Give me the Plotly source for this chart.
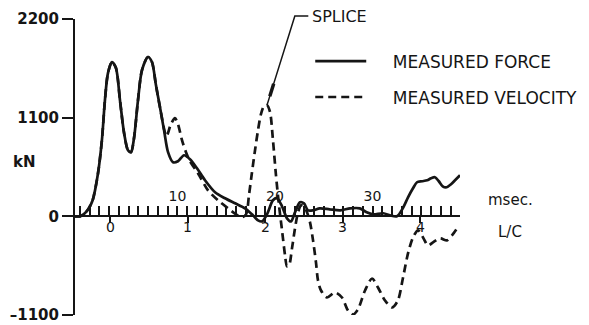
import plotly.graph_objects as go

# ---- data ----
force_t_ms = [-0.5, 0.0, 0.5, 0.9, 1.3, 1.85, 2.25, 2.56, 2.87, 3.28, 3.69, 4.1, 4.51, 4.92, 5.23,
              5.54, 5.95, 6.36, 6.97, 7.38, 7.79, 8.2, 8.62, 9.03, 9.54, 10.05, 10.67, 11.28, 12.0,
              12.82, 13.85, 14.87, 15.9, 16.92, 17.64, 18.26, 18.67, 19.18, 19.79, 20.2, 20.72,
              21.23, 21.64, 22.05, 22.56, 22.97, 23.38, 23.9, 24.6, 25.6, 26.7, 27.7, 28.7, 29.4,
              30.05, 31.1, 31.8, 32.5, 33.1, 33.64, 34.15, 34.56, 35.08, 35.6, 36.0, 36.4, 36.8,
              37.2, 37.6, 38.05, 38.46, 38.97]
force_kN = [0, 0, 34, 89, 179, 480, 849, 1296, 1597, 1720, 1653, 1296, 938, 737, 715,
            871, 1296, 1631, 1776, 1720, 1463, 1218, 961, 715, 603, 614, 681, 637, 536,
            402, 268, 201, 145, 89, 22, -45, -56, 22, 179, 201, 112,
            -22, -56, 45, 156, 145, 67, 67, 89, 78, 67, 89, 89, 45,
            22, 34, 11, 0, 89, 212, 313, 380, 391, 402, 424, 436, 391,
            335, 324, 357, 402, 458]

vel_t_ms = [-0.5, 0.0, 0.5, 0.9, 1.3, 1.85, 2.25, 2.56, 2.87, 3.28, 3.69, 4.1, 4.51, 4.92, 5.23,
            5.54, 5.95, 6.36, 6.97, 7.38, 7.79, 8.2, 8.87, 9.3, 9.74, 10.05, 10.46, 10.87, 11.28,
            12.1, 13.13, 14.15, 15.18, 16.0, 16.6, 17.03, 17.33, 17.64, 17.95, 18.26, 18.56,
            18.87, 19.18, 19.49, 19.79, 20.1, 20.41, 20.72, 21.03, 21.23, 21.44, 21.74, 22.05,
            22.36, 22.67, 22.97, 23.28, 23.59, 23.9, 24.2, 24.41, 24.72, 25.33, 26.15, 26.87,
            27.49, 28.0, 28.5, 29.23, 29.95, 30.56, 31.28, 32.0, 32.6, 33.13, 33.64, 34.15,
            34.67, 35.18, 35.69, 36.2, 36.92, 37.64, 38.15, 38.67]
velocity_kN = [0, 0, 34, 89, 179, 480, 849, 1296, 1597, 1720, 1653, 1296, 938, 737, 715,
               871, 1296, 1631, 1776, 1720, 1463, 1218, 894, 1020, 1095, 1028, 849, 715, 614,
               480, 290, 179, 89, 22, -11, 22, 235, 491, 737, 961, 1139,
               1229, 1240, 1162, 849, 458, 123, -156, -436, -558, -547, -357, -134,
               45, 123, 112, 45, -67, -268, -514, -715, -827, -905, -849, -905,
               -1050, -1095, -1039, -827, -693, -793, -938, -1016, -938, -681, -413, -235,
               -156, -235, -324, -290, -246, -268, -212, -134]

y_ticks = [-1100, 0, 1100, 2200]
msec_ticks = [10, 20, 30]
lc_ticks = [0, 1, 2, 3, 4]

# axis calibration
X_RANGE = [-0.51, 38.97]          # msec
Y_RANGE = [-1100, 2200]           # kN
LC0_MS = 3.08                     # msec at L/C = 0
MS_PER_LC = 7.95
LC_RANGE = [(v - LC0_MS) / MS_PER_LC for v in X_RANGE]

INK = "#151515"
FONT = "DejaVu Sans"
NB = "\u00a0"

fig = go.Figure()
fig.add_trace(go.Scatter(x=force_t_ms, y=force_kN, mode="lines", name=NB * 4 + "MEASURED FORCE",
                         line=dict(color=INK, width=2.7, shape="spline", smoothing=0.8),
                         legend="legend"))
fig.add_trace(go.Scatter(x=vel_t_ms, y=velocity_kN, mode="lines", name=NB * 4 + "MEASURED VELOCITY",
                         line=dict(color=INK, width=2.7, dash="8px,5px", shape="spline", smoothing=0.8),
                         legend="legend2"))
# L/C axis carrier (invisible)
fig.add_trace(go.Scatter(x=LC_RANGE, y=[0, 0], xaxis="x2", mode="lines",
                         line=dict(width=0), hoverinfo="skip", showlegend=False))

zero_pos = (0 - Y_RANGE[0]) / (Y_RANGE[1] - Y_RANGE[0])

# the page body adds an 8px offset; the figure is sized so the page fills 589x325
fig.update_layout(
    template="none",
    width=581, height=317,
    margin=dict(l=67, r=129, t=11, b=10, pad=0, autoexpand=False),
    paper_bgcolor="white", plot_bgcolor="white",
    font=dict(family=FONT, color=INK),
    xaxis=dict(range=X_RANGE, anchor="free", position=zero_pos, side="top", automargin=False,
               showline=True, linewidth=2, linecolor=INK, showgrid=False, zeroline=False,
               tickmode="array", tickvals=msec_ticks, ticktext=[str(v) for v in msec_ticks],
               ticks="outside", ticklen=9, tickwidth=1.5, tickcolor=INK,
               tickfont=dict(size=14, family=FONT, color=INK),
               minor=dict(tickmode="linear", tick0=0, dtick=1, ticks="outside",
                          ticklen=9, tickwidth=1.5, tickcolor=INK, showgrid=False)),
    xaxis2=dict(range=LC_RANGE, overlaying="x", anchor="free", position=zero_pos, side="bottom",
                automargin=False, showline=False, showgrid=False, zeroline=False,
                tickmode="array", tickvals=lc_ticks, showticklabels=False,
                ticks="outside", ticklen=6, tickwidth=1.5, tickcolor=INK),
    yaxis=dict(range=Y_RANGE, anchor="x", automargin=False, showline=True, linewidth=2, linecolor=INK,
               showgrid=False, zeroline=False,
               tickmode="array", tickvals=y_ticks, ticktext=[str(v).replace("-", "\u2013") for v in y_ticks],
               ticks="outside", ticklen=11, tickwidth=1.5, tickcolor=INK,
               tickfont=dict(size=15, family=FONT, color=INK, weight="bold")),
    legend=dict(x=0.611, y=0.856, xanchor="left", yanchor="middle", bgcolor="rgba(0,0,0,0)",
                font=dict(size=17, family=FONT, color=INK), itemwidth=51),
    legend2=dict(x=0.611, y=0.735, xanchor="left", yanchor="middle", bgcolor="rgba(0,0,0,0)",
                 font=dict(size=17, family=FONT, color=INK), itemwidth=51),
    showlegend=True,
)

# L/C tick labels placed on the L/C scale just below the zero line
for v in lc_ticks:
    fig.add_annotation(text=str(v), xref="x2", yref="y", x=v, y=0, yshift=-11,
                       xanchor="center", yanchor="middle", showarrow=False,
                       font=dict(size=14, family=FONT, color=INK))

# SPLICE leader from the velocity peak after 15 ms
cand = [i for i, t in enumerate(vel_t_ms) if t > 15]
ip = max(cand, key=lambda i: velocity_kN[i])
px = (vel_t_ms[ip] - X_RANGE[0]) / (X_RANGE[1] - X_RANGE[0])
py = (velocity_kN[ip] - Y_RANGE[0]) / (Y_RANGE[1] - Y_RANGE[0])
tx, ty = 0.571, 1.01
fig.add_shape(type="path", xref="paper", yref="paper",
              path=f"M{px},{py} L{tx},{ty} L0.606,{ty}",
              line=dict(color=INK, width=1.5))
# splice mark on the leader
a, b = 0.10, 0.24
fig.add_shape(type="line", xref="paper", yref="paper",
              x0=px + a * (tx - px), y0=py + a * (ty - py),
              x1=px + b * (tx - px), y1=py + b * (ty - py),
              line=dict(color=INK, width=3.5))

fig.add_annotation(text="SPLICE", xref="paper", yref="paper", x=0.61, y=1.008,
                   xanchor="left", yanchor="middle", showarrow=False,
                   font=dict(size=16, family=FONT, color=INK))
fig.add_annotation(text="kN", xref="paper", yref="paper", x=-0.13, y=0.517,
                   xanchor="center", yanchor="middle", showarrow=False,
                   font=dict(size=15, family=FONT, color=INK, weight="bold"))
fig.add_annotation(text="msec.", xref="paper", yref="paper", x=1.13, y=0.389,
                   xanchor="center", yanchor="middle", showarrow=False,
                   font=dict(size=15, family=FONT, color=INK))
fig.add_annotation(text="L/C", xref="paper", yref="paper", x=1.13, y=0.28,
                   xanchor="center", yanchor="middle", showarrow=False,
                   font=dict(size=15, family=FONT, color=INK))

fig.write_html("out.html")
